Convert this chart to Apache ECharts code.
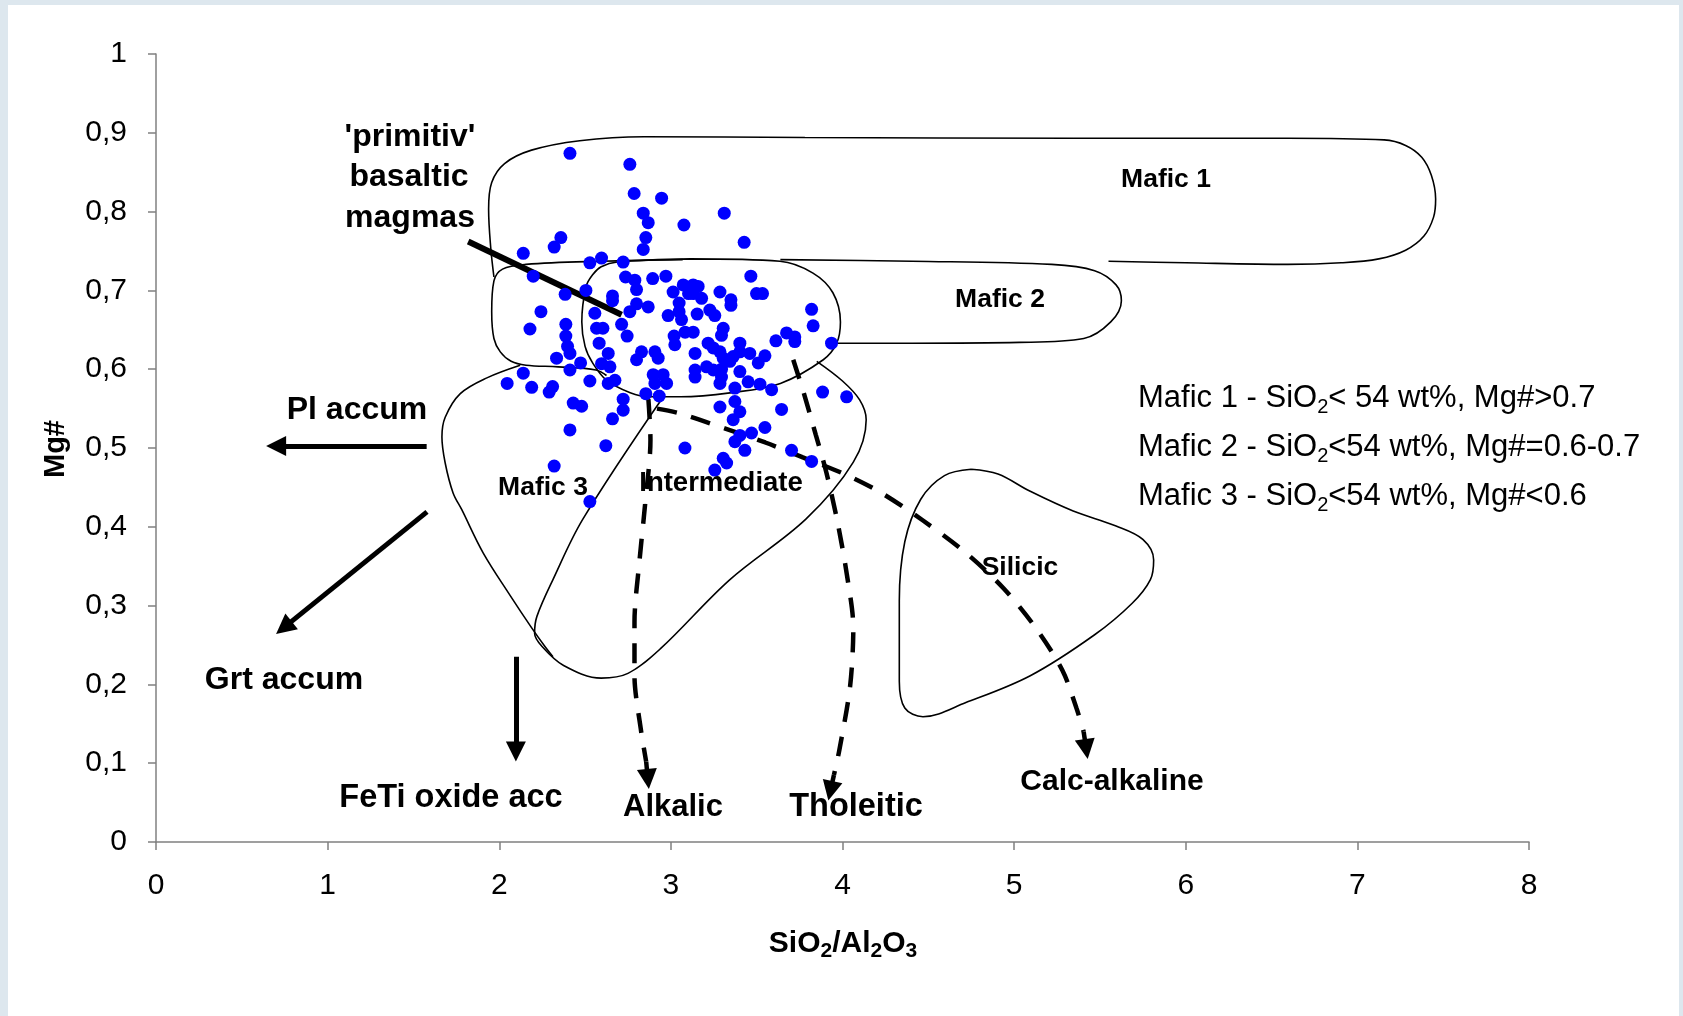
<!DOCTYPE html>
<html><head><meta charset="utf-8">
<script src="https://cdn.jsdelivr.net/npm/echarts@6/dist/echarts.min.js"></script>
<style>
html,body{margin:0;padding:0;background:#dde7ee;overflow:hidden}
#panel{position:absolute;left:8px;top:5px;width:1671px;height:1011px;background:#fff}
#chart{position:absolute;left:0;top:0;width:1683px;height:1016px}
</style>
</head><body><div id="panel"></div><div id="chart"></div>
<script>
// ---------- data (SiO2/Al2O3 , Mg#) ----------
const sampleX = [2.412,2.761,2.786,2.946,2.839,2.868,3.076,2.854,2.839,2.359,2.320,2.140,2.528,2.596,2.722,2.198,2.736,2.790,2.894,2.971,
2.800,3.013,3.072,3.103,2.505,2.384,2.660,2.660,2.800,2.868,2.761,3.048,3.048,2.984,3.062,2.243,2.557,2.388,2.179,2.567,
2.604,2.713,3.311,3.427,3.466,3.130,3.159,3.286,3.499,3.534,3.130,3.179,3.350,3.350,3.820,3.227,3.256,3.153,3.829,3.674,
3.305,3.130,2.388,2.745,2.582,2.398,2.412,3.019,3.023,3.083,2.907,2.926,2.829,2.800,2.635,2.334,2.474,2.596,2.645,2.412,
2.140,2.046,2.189,2.291,2.311,2.528,2.635,2.674,2.897,2.955,2.907,2.975,2.854,2.932,2.431,2.480,2.722,2.722,2.660,2.412,
2.621,3.082,2.320,2.528,3.295,3.722,3.722,3.612,3.936,3.217,3.247,3.402,3.402,3.141,3.286,3.305,3.460,3.548,3.509,3.363,
3.344,3.208,3.247,3.141,3.141,3.295,3.295,3.402,3.286,3.450,3.519,3.373,3.587,3.884,4.024,3.373,3.402,3.286,3.645,3.363,
3.548,3.470,3.402,3.373,3.431,3.703,3.820,3.305,3.325,3.256];
const sampleY = [0.874,0.860,0.823,0.817,0.798,0.786,0.783,0.767,0.752,0.767,0.755,0.747,0.735,0.741,0.736,0.718,0.717,0.713,0.715,0.718,
0.701,0.698,0.707,0.696,0.700,0.695,0.693,0.687,0.683,0.679,0.673,0.684,0.673,0.668,0.663,0.673,0.671,0.657,0.651,0.652,
0.652,0.657,0.798,0.761,0.718,0.707,0.705,0.698,0.696,0.696,0.696,0.690,0.688,0.681,0.676,0.675,0.668,0.670,0.655,0.646,
0.652,0.647,0.642,0.642,0.633,0.629,0.620,0.642,0.631,0.647,0.622,0.614,0.622,0.612,0.620,0.614,0.608,0.607,0.603,0.599,
0.595,0.582,0.577,0.571,0.578,0.585,0.582,0.586,0.593,0.593,0.582,0.582,0.569,0.566,0.557,0.553,0.562,0.548,0.537,0.523,
0.503,0.500,0.477,0.432,0.643,0.641,0.635,0.636,0.633,0.633,0.627,0.633,0.622,0.620,0.622,0.614,0.620,0.617,0.608,0.616,
0.610,0.603,0.599,0.599,0.590,0.600,0.590,0.597,0.582,0.584,0.581,0.576,0.574,0.571,0.565,0.559,0.546,0.552,0.549,0.536,
0.526,0.519,0.516,0.508,0.497,0.497,0.483,0.487,0.481,0.472];

const xTickLabels = ['0','1','2','3','4','5','6','7','8'];
const yTickLabels = ['0','0,1','0,2','0,3','0,4','0,5','0,6','0,7','0,8','0,9','1'];

// field outlines (data units)
const mafic1Outline = [[1.969,0.717],[1.950,0.755],[1.938,0.803],[1.956,0.837],[2.031,0.861],[2.188,0.878],[2.469,0.890],[2.844,0.895],
 [3.781,0.894],[5.344,0.893],[6.594,0.893],[7.156,0.891],[7.281,0.884],[7.375,0.869],[7.431,0.846],[7.456,0.816],[7.444,0.793],
 [7.388,0.769],[7.281,0.751],[7.125,0.740],[6.906,0.735],[6.594,0.733],[6.000,0.735],[5.550,0.737]];
const mafic2Outline = [[3.638,0.739],[4.406,0.737],[5.219,0.733],[5.469,0.725],[5.594,0.707],[5.625,0.687],[5.563,0.660],[5.406,0.639],
 [5.031,0.634],[4.406,0.633],[3.938,0.633]];
const mafic2LeftOutline = [[3.069,0.739],[2.594,0.737],[2.156,0.733],[2.019,0.727],[1.969,0.712],[1.956,0.673],[1.969,0.639],
 [2.006,0.622],[2.069,0.610],[2.156,0.605],[2.344,0.603],[2.563,0.599],[2.625,0.592]];
const centralOutline = [[3.113,0.740],[3.636,0.737],[3.828,0.722],[3.944,0.697],[3.988,0.660],[3.966,0.633],[3.888,0.612],[3.638,0.582],
 [3.344,0.570],[3.056,0.565],[2.875,0.565],[2.763,0.570],[2.625,0.586],[2.544,0.608],[2.500,0.629],[2.481,0.660],[2.506,0.705],
 [2.544,0.720],[2.594,0.730],[2.688,0.736],[3.113,0.740]];
const mafic3Outline = [[2.122,0.605],[1.928,0.589],[1.773,0.569],[1.685,0.539],[1.666,0.514],[1.685,0.481],[1.731,0.443],[1.781,0.422],
 [1.906,0.367],[2.063,0.313],[2.188,0.272],[2.263,0.249],[2.313,0.235]];
const intermediateOutline = [[2.956,0.565],[2.488,0.410],[2.313,0.333],[2.219,0.286],[2.206,0.265],[2.250,0.248],[2.375,0.224],
 [2.594,0.208],[2.750,0.214],[2.938,0.245],[3.344,0.333],[3.788,0.410],[4.063,0.482],[4.138,0.536],[4.100,0.561],[4.000,0.585],[3.850,0.610]];
const silicicOutline = [[4.750,0.473],[4.594,0.465],[4.456,0.435],[4.363,0.381],[4.331,0.306],[4.331,0.204],[4.363,0.170],[4.469,0.159],
 [4.719,0.177],[5.094,0.211],[5.469,0.263],[5.688,0.303],[5.794,0.333],[5.813,0.358],[5.750,0.384],[5.594,0.401],[5.344,0.420],
 [5.094,0.445],[4.906,0.467],[4.750,0.473]];

// differentiation trends (dashed arrows)
const alkalicTrend = [[2.869,0.562],[2.881,0.510],[2.850,0.429],[2.819,0.361],[2.788,0.279],[2.788,0.211],[2.825,0.143],[2.856,0.102]];
const tholeiticTrend = [[3.713,0.612],[3.781,0.565],[3.844,0.517],[3.906,0.469],[3.969,0.408],[4.025,0.340],[4.063,0.272],[4.044,0.197],[3.981,0.116],[3.950,0.085]];
const calcAlkalineTrend = [[2.919,0.550],[3.050,0.544],[3.313,0.525],[3.550,0.507],[3.769,0.488],[4.000,0.468],[4.219,0.444],[4.469,0.408],
 [4.719,0.367],[4.938,0.322],[5.125,0.272],[5.281,0.218],[5.363,0.170],[5.405,0.140]];
const alkalicHead = [[2.856,0.102],[2.866,0.080]];
const tholeiticHead = [[3.950,0.085],[3.930,0.065]];
const calcAlkalineHead = [[5.405,0.140],[5.420,0.118]];

// accumulation vectors (solid arrows)
const plAccum = [[1.577,0.5025],[0.700,0.5025]];
const grtAccum = [[1.579,0.419],[0.745,0.272]];
const fetiAccum = [[2.097,0.235],[2.097,0.115]];
const primitivePointer = [[1.819,0.762],[2.713,0.669]];

// ---------- chart ----------
const FONT = '"Liberation Sans", Arial, sans-serif';
const chart = echarts.init(document.getElementById('chart'), null, {renderer:'canvas'});

function outline(data){
  return {type:'line', data:data, smooth:0.35, showSymbol:false, symbol:'none', silent:true, z:2,
    lineStyle:{color:'#000', width:1.6}};
}
function dashed(data){
  return {type:'line', data:data, smooth:0.3, showSymbol:false, symbol:'none', silent:true, z:3,
    lineStyle:{color:'#000', width:4.5, type:[20,15]}};
}
function arrow(data, size, width){
  return {type:'lines', coordinateSystem:'cartesian2d', silent:true, z:4,
    symbol:['none','triangle'], symbolSize:size,
    lineStyle:{color:'#000', width:width, opacity:1, curveness:0},
    data:[{coords:data}]};
}

const option = {
  animation:false,
  backgroundColor:'transparent',
  grid:{left:156, right:154, top:54, bottom:174, outerBoundsMode:'none'},
  xAxis:{type:'value', min:0, max:8, interval:1,
    axisLine:{lineStyle:{color:'#808080', width:1.5}},
    axisTick:{show:true, length:8, lineStyle:{color:'#808080', width:1.5}},
    splitLine:{show:false},
    axisLabel:{color:'#000', fontSize:30, fontFamily:FONT, margin:29,
      formatter:v=>xTickLabels[Math.round(v)]}},
  yAxis:{type:'value', min:0, max:1, interval:0.1,
    axisLine:{show:true, lineStyle:{color:'#808080', width:1.5}},
    axisTick:{show:true, length:8, lineStyle:{color:'#808080', width:1.5}},
    splitLine:{show:false},
    axisLabel:{color:'#000', fontSize:30, fontFamily:FONT, margin:29,
      formatter:v=>yTickLabels[Math.round(v*10)]}},
  series:[
    outline(mafic1Outline), outline(mafic2Outline), outline(mafic2LeftOutline), outline(centralOutline),
    outline(mafic3Outline), outline(intermediateOutline), outline(silicicOutline),
    dashed(alkalicTrend), dashed(tholeiticTrend), dashed(calcAlkalineTrend),
    arrow(alkalicHead, 20, 4.5), arrow(tholeiticHead, 20, 4.5), arrow(calcAlkalineHead, 20, 4.5),
    arrow(plAccum, 20, 5), arrow(grtAccum, 20, 5), arrow(fetiAccum, 20, 5),
    {type:'lines', coordinateSystem:'cartesian2d', silent:true, z:4, symbol:'none',
      lineStyle:{color:'#000', width:6, opacity:1}, data:[{coords:primitivePointer}]},
    {type:'scatter', name:'samples', z:5, symbol:'circle', symbolSize:13,
      itemStyle:{color:'#0000ff', opacity:1},
      data:sampleX.map((x,i)=>[x, sampleY[i]])}
  ],
  graphic:[]
};

const bold = (t, x, y, size, align) => ({type:'text', silent:true, z:100,
  style:{text:t, x:x, y:y, fill:'#000', font:'bold '+size+'px '+FONT, align:align||'center', verticalAlign:'middle'}});
const legendRich = {a:{fontSize:31, fontFamily:FONT, fill:'#000', lineHeight:38},
                    s:{fontSize:20, fontFamily:FONT, fill:'#000', lineHeight:16, verticalAlign:'bottom'}};

option.graphic = [
  bold("'primitiv'", 410, 137, 32),
  bold('basaltic', 409, 177, 32),
  bold('magmas', 410, 218, 32),
  bold('Mafic 1', 1166, 180, 26.5),
  bold('Mafic 2', 1000, 300, 26.5),
  bold('Mafic 3', 543, 488, 26.5),
  bold('Intermediate', 721, 483, 27.5),
  bold('Silicic', 1020, 568, 26.5),
  bold('Pl accum', 357, 410, 32),
  bold('Grt accum', 284, 680, 32),
  bold('FeTi oxide acc', 451, 798, 32.5),
  bold('Alkalic', 673, 807, 31),
  bold('Tholeitic', 856, 807, 32.5),
  bold('Calc-alkaline', 1112, 782, 30),
  {type:'text', silent:true, z:100, style:{x:1138, y:398, verticalAlign:'middle', align:'left',
    text:'{a|Mafic 1 - SiO}{s|2}{a|< 54 wt%, Mg#>0.7}', rich:legendRich}},
  {type:'text', silent:true, z:100, style:{x:1138, y:447, verticalAlign:'middle', align:'left',
    text:'{a|Mafic 2 - SiO}{s|2}{a|<54 wt%, Mg#=0.6-0.7}', rich:legendRich}},
  {type:'text', silent:true, z:100, style:{x:1138, y:496, verticalAlign:'middle', align:'left',
    text:'{a|Mafic 3 - SiO}{s|2}{a|<54 wt%, Mg#<0.6}', rich:legendRich}},
  {type:'text', silent:true, z:100, style:{x:843, y:944, verticalAlign:'middle', align:'center',
    text:'{a|SiO}{s|2}{a|/Al}{s|2}{a|O}{s|3}',
    rich:{a:{fontSize:30, fontWeight:'bold', fontFamily:FONT, fill:'#000', lineHeight:36}, s:{fontSize:21, fontWeight:'bold', fontFamily:FONT, fill:'#000', lineHeight:15, verticalAlign:'bottom'}}}},
  {type:'text', silent:true, z:100, x:56, y:449, rotation:Math.PI/2,
    style:{x:0, y:0, text:'Mg#', fill:'#000', font:'bold 29px '+FONT, align:'center', verticalAlign:'middle'}}
];

chart.setOption(option);
</script>
</body></html>
